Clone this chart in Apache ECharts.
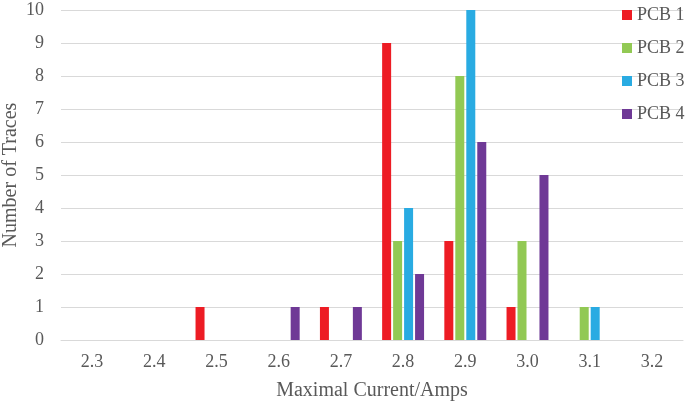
<!DOCTYPE html>
<html><head><meta charset="utf-8">
<script src="https://cdn.jsdelivr.net/npm/echarts@6/dist/echarts.min.js"></script>
<style>html,body{margin:0;padding:0;background:#fff}#c{width:685px;height:402px}</style>
</head><body><div id="c"></div>
<script>
const categories = ['2.3','2.4','2.5','2.6','2.7','2.8','2.9','3.0','3.1','3.2'];
const pcb1 = [0,0,1,0,1,9,3,1,0,0];
const pcb2 = [0,0,0,0,0,3,8,3,1,0];
const pcb3 = [0,0,0,0,0,4,10,0,1,0];
const pcb4 = [0,0,0,1,1,2,6,5,0,0];
const seriesNames = ['PCB 1','PCB 2','PCB 3','PCB 4'];
const colors = ['#ED1C24','#92C954','#29ABE2','#6F3996'];
const font = 'Liberation Serif';
const txt = '#595959';
const chart = echarts.init(document.getElementById('c'));
const data = [pcb1,pcb2,pcb3,pcb4];
chart.setOption({
  animation:false,
  grid:{left:61,right:2,top:10,bottom:62,outerBoundsMode:'none',containLabel:false},
  legend:{orient:'vertical',left:622,top:6,padding:0,itemWidth:10,itemHeight:10,itemGap:15,icon:'rect',
    textStyle:{fontFamily:font,fontSize:18,color:txt},data:seriesNames},
  xAxis:{type:'category',data:categories,
    name:'Maximal Current/Amps',nameLocation:'middle',nameGap:41,nameMoveOverlap:false,
    nameTextStyle:{fontFamily:font,fontSize:20,color:txt},
    axisLine:{lineStyle:{color:'#d9d9d9',width:1}},axisTick:{show:false},
    axisLabel:{fontFamily:font,fontSize:18,color:txt,margin:13}},
  yAxis:{type:'value',min:0,max:10,interval:1,
    name:'Number of Traces',nameLocation:'middle',nameGap:40,nameMoveOverlap:false,
    nameTextStyle:{fontFamily:font,fontSize:20,color:txt},
    axisLine:{show:false},axisTick:{show:false},
    splitLine:{lineStyle:{color:'#d9d9d9',width:1}},
    axisLabel:{fontFamily:font,fontSize:18,color:txt,margin:17}},
  series:data.map((d,i)=>({name:seriesNames[i],type:'bar',data:d,barWidth:9,barGap:'22%',
    itemStyle:{color:colors[i]}}))
});
</script></body></html>
